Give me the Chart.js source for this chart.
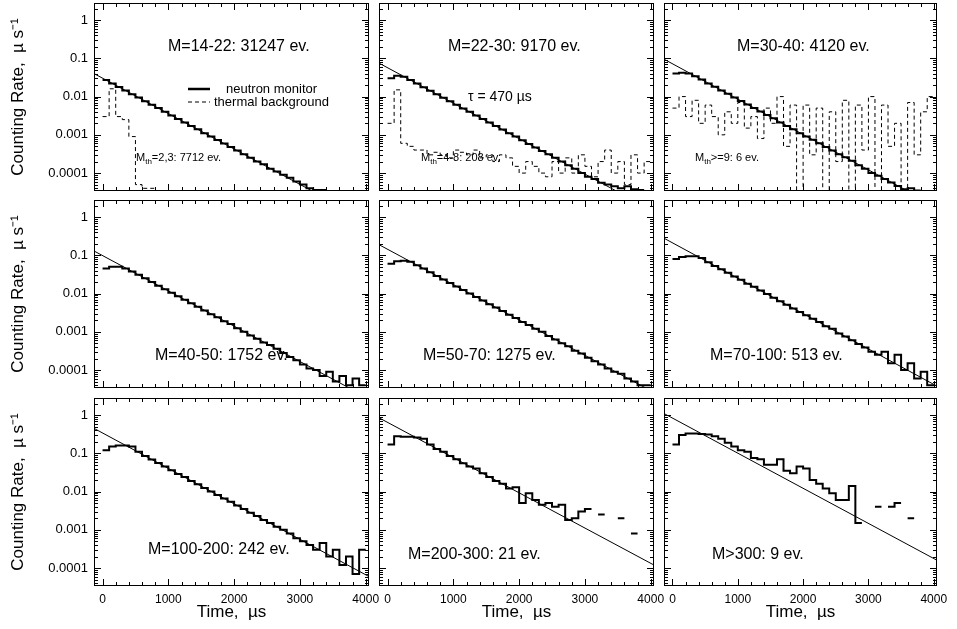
<!DOCTYPE html>
<html><head><meta charset="utf-8">
<script src="https://cdn.jsdelivr.net/npm/chart.js@4"></script>
<style>body{margin:0;background:#fff;width:957px;height:629px;overflow:hidden;position:relative;font-family:"Liberation Sans",Arial,sans-serif}canvas{position:absolute}</style>
</head><body>
<script>
const binEdges=[0,100,200,300,400,500,600,700,800,900,1000,1100,1200,1300,1400,1500,1600,1700,1800,1900,2000,2100,2200,2300,2400,2500,2600,2700,2800,2900,3000,3100,3200,3300,3400,3500,3600,3700,3800,3900,4000];
const xTickLabels=[0,1000,2000,3000,4000];
const yTickValues=[0.0001,0.001,0.01,0.1,1];
const h1=[0.027,0.022,0.0178,0.0144,0.0116,0.0094,0.0076,0.0061,0.005,0.004,0.0032,0.0026,0.0021,0.0017,0.0014,0.0011,0.0009,0.00073,0.00059,0.00048,0.00039,0.00031,0.00025,0.0002,0.00017,0.00013,0.00011,0.00009,0.000075,0.00006,0.00005,0.00004,0.000036,0.000036,null,null,null,null,null,null];
const t1=[0.003,0.016,0.003,0.0025,0.0009,0.00005,0.00004,0.00004,null,null,null,null,null,null,null,null,null,null,null,null,null,null,null,null,null,null,null,null,null,null,null,null,null,null,null,null,null,null,null,null];
const h2=[0.03,0.035,0.033,0.027,0.022,0.0176,0.0142,0.0115,0.0093,0.0075,0.0061,0.0049,0.004,0.0032,0.0026,0.0021,0.0017,0.00137,0.0011,0.0009,0.00072,0.00058,0.00047,0.00038,0.00031,0.00025,0.0002,0.00016,0.00013,0.0001,0.00008,0.00007,0.000056,0.00005,0.000045,0.00004,0.000045,0.000038,0.000036,null];
const t2=[0.002,0.015,0.0006,0.0005,0.0004,0.0004,0.0003,0.00035,0.0003,0.00025,0.0004,0.00035,0.0003,0.0004,0.00025,0.0003,0.0002,0.0003,0.00025,0.00015,0.0001,0.0002,0.00015,0.0001,0.00008,0.0002,0.0001,0.00025,0.0001,0.0003,0.00015,0.00008,0.0002,0.0004,0.0001,0.0002,0.00005,0.0003,0.0001,0.0002];
const h3=[0.04,0.042,0.04,0.034,0.028,0.022,0.018,0.0145,0.0118,0.0095,0.0077,0.0062,0.005,0.0041,0.0033,0.0027,0.0021,0.0017,0.0014,0.0011,0.0009,0.00074,0.0006,0.00048,0.00039,0.00031,0.00026,0.00021,0.00016,0.00013,0.0001,0.000085,0.00007,0.000057,0.000046,0.000038,0.00004,0.000035,null,null];
const t3=[0.005,0.01,0.003,0.008,0.002,0.006,0.003,0.001,0.004,0.002,0.007,0.0015,0.003,0.0008,0.005,0.002,0.01,0.0005,0.006,0.00001,0.006,0.0003,0.005,0.00001,0.004,0.0002,0.008,0.00001,0.006,0.0004,0.01,0.00001,0.006,0.0005,0.002,0.00001,0.007,0.0003,0.004,0.01];
const h4=[0.045,0.05,0.05,0.045,0.038,0.031,0.025,0.02,0.016,0.013,0.0105,0.0085,0.0069,0.0056,0.0045,0.0036,0.0029,0.0024,0.0019,0.0016,0.00125,0.001,0.0008,0.00066,0.00053,0.00045,0.00036,0.00028,0.00022,0.00018,0.00014,0.00011,0.0001,0.00007,0.00009,0.00005,0.00007,0.00004,0.00006,0.00004];
const h5=[0.06,0.07,0.072,0.068,0.055,0.045,0.036,0.029,0.0235,0.019,0.0154,0.0124,0.01,0.0082,0.0066,0.0053,0.0043,0.0035,0.0028,0.0023,0.0018,0.0015,0.0012,0.001,0.00078,0.00063,0.0005,0.00042,0.00032,0.00027,0.00021,0.00017,0.00014,0.00011,0.00009,0.00008,0.00006,0.00005,0.00004,0.00004];
const h6=[0.08,0.09,0.095,0.095,0.085,0.066,0.053,0.043,0.035,0.028,0.023,0.018,0.015,0.012,0.0097,0.0078,0.0063,0.0051,0.0041,0.0033,0.0027,0.0022,0.0018,0.0014,0.0012,0.0009,0.00075,0.0006,0.00048,0.00039,0.0003,0.00025,0.0003,0.00015,0.00025,0.0001,0.00015,0.00006,0.00009,0.00004];
const h7=[0.12,0.15,0.16,0.16,0.15,0.11,0.085,0.069,0.056,0.045,0.036,0.029,0.024,0.019,0.0155,0.0125,0.01,0.0082,0.0066,0.0054,0.0043,0.0035,0.0028,0.0023,0.0018,0.0015,0.0012,0.001,0.0008,0.0006,0.0005,0.0004,0.0003,0.00045,0.0002,0.0003,0.00012,0.0002,0.00007,0.0003];
const h8=[0.17,0.28,0.27,0.27,0.26,0.24,0.17,0.13,0.11,0.085,0.07,0.055,0.045,0.04,0.03,0.024,0.019,0.016,0.012,0.013,0.005,0.009,0.006,0.0045,0.005,0.004,0.0045,0.0018,0.002,0.003,0.0035,null,0.0025,null,null,0.002,null,0.0008,null,null];
const h9=[0.17,0.3,0.33,0.33,0.32,0.31,0.28,0.24,0.19,0.15,0.12,0.11,0.075,0.07,0.05,0.05,0.07,0.035,0.03,0.045,0.04,0.02,0.016,0.012,0.009,0.006,0.006,0.014,0.0015,null,null,0.004,null,0.004,0.005,null,0.002,null,null,null];
const fitX=[-130,4050];
const fit1=[0.04,5.4e-6],fit2=[0.075,1.0e-5],fit3=[0.095,1.3e-5],fit4=[0.13,1.8e-5],fit5=[0.19,2.6e-5],fit6=[0.28,3.8e-5],fit7=[0.45,6.0e-5],fit8=[0.85,1.2e-4],fit9=[1.1,1.6e-4];
const panelTitles=["M=14-22: 31247 ev.","M=22-30: 9170 ev.","M=30-40: 4120 ev.","M=40-50: 1752 ev.","M=50-70: 1275 ev.","M=70-100: 513 ev.","M=100-200: 242 ev.","M=200-300: 21 ev.","M>300: 9 ev."];
const hists=[h1,h2,h3,h4,h5,h6,h7,h8,h9];
const therms=[t1,t2,t3,null,null,null,null,null,null];
const fits=[fit1,fit2,fit3,fit4,fit5,fit6,fit7,fit8,fit9];

function stepPts(v){const p=[];for(let i=0;i<v.length;i++){if(v[i]==null){p.push({x:binEdges[i],y:null});continue;}p.push({x:binEdges[i],y:v[i]});p.push({x:binEdges[i+1],y:v[i]});}return p;}

const colL=[0,379,664],colW=[369,275,273],rowT=[3,200,398];
const titlePos=[[74,44],[69,44],[73,44],[61,156],[44,156],[46,156],[54,152],[29,157],[48,157]];
const FONT='"Liberation Sans",Arial,sans-serif';
const EXTRA=20;

const framePlugin={id:'frame',afterDraw(c){
  const ctx=c.ctx,a=c.chartArea,xs=c.scales.x,ys=c.scales.y;const idx=c.options.plugins.frame.idx;
  ctx.save();ctx.strokeStyle='#000';ctx.lineWidth=1;
  ctx.strokeRect(a.left+0.5,a.top+0.5,a.right-a.left-1,a.bottom-a.top-1);
  ctx.beginPath();
  for(let t=0;t<=4000;t+=200){const x=Math.round(xs.getPixelForValue(t))+0.5;const L=t%1000===0?7:4;ctx.moveTo(x,a.bottom);ctx.lineTo(x,a.bottom-L);ctx.moveTo(x,a.top);ctx.lineTo(x,a.top+L);}
  for(let e=-5;e<=0;e++){for(let m=1;m<=9;m++){const v=m*Math.pow(10,e);if(v<ys.min||v>ys.max)continue;const y=Math.round(ys.getPixelForValue(v))+0.5;const L=m===1?7:4;ctx.moveTo(a.left,y);ctx.lineTo(a.left+L,y);ctx.moveTo(a.right,y);ctx.lineTo(a.right-L,y);}}
  ctx.stroke();
  ctx.fillStyle='#000';ctx.textBaseline='middle';
  const tp=titlePos[idx];ctx.font='16px '+FONT;ctx.fillText(panelTitles[idx],a.left+tp[0],a.top+tp[1]);
  function sub(x,y,main,s,rest){ctx.font='11px '+FONT;ctx.fillText(main,x,y);let w=ctx.measureText(main).width;ctx.font='8px '+FONT;ctx.fillText(s,x+w,y+4);w+=ctx.measureText(s).width;ctx.font='11px '+FONT;ctx.fillText(rest,x+w,y);}
  if(idx===0){ctx.font='13px '+FONT;
    ctx.lineWidth=2.5;ctx.beginPath();ctx.moveTo(a.left+94,a.top+86);ctx.lineTo(a.left+116,a.top+86);ctx.stroke();
    ctx.lineWidth=1;ctx.setLineDash([4,3]);ctx.beginPath();ctx.moveTo(a.left+94,a.top+99);ctx.lineTo(a.left+116,a.top+99);ctx.stroke();ctx.setLineDash([]);
    ctx.fillText('neutron monitor',a.left+132,a.top+86);ctx.fillText('thermal background',a.left+120,a.top+99);
    sub(a.left+42,a.top+155,'M','th','=2,3: 7712 ev.');}
  if(idx===1){ctx.font='14px '+FONT;ctx.fillText('τ = 470 µs',a.left+89,a.top+94);sub(a.left+42,a.top+155,'M','th','=4-8: 208 ev.');}
  if(idx===2){sub(a.left+31,a.top+155,'M','th','>=9: 6 ev.');}
  ctx.restore();}};

for(let i=0;i<9;i++){
  const r=Math.floor(i/3),cc=i%3;const bottom=r===2,left=cc===0;
  const ex=bottom?EXTRA:0;
  const W=colW[cc]+ex,H=188+(bottom?43:0);
  const cv=document.createElement('canvas');
  cv.width=W;cv.height=H;
  cv.style.left=colL[cc]+'px';cv.style.top=rowT[r]+'px';cv.style.width=W+'px';cv.style.height=H+'px';
  document.body.appendChild(cv);
  const ds=[{data:stepPts(hists[i]),borderColor:'#000',borderWidth:2,pointRadius:0,spanGaps:false,tension:0}];
  if(therms[i])ds.push({data:stepPts(therms[i]),borderColor:'#000',borderWidth:1,borderDash:[4,3],pointRadius:0,spanGaps:false});
  ds.push({data:fitX.map((x,k)=>({x:x,y:fits[i][k]})),borderColor:'#000',borderWidth:1,pointRadius:0});
  new Chart(cv,{type:'line',data:{datasets:ds},plugins:[framePlugin],
    options:{responsive:false,animation:false,devicePixelRatio:1,layout:{padding:{left:0,top:0,bottom:0,right:ex}},
      plugins:{legend:{display:false},tooltip:{enabled:false},frame:{idx:i}},
      scales:{
        x:{type:'linear',min:-130,max:4050,display:bottom,grid:{display:false,drawTicks:false},border:{display:false},
          afterBuildTicks:s=>{s.ticks=xTickLabels.map(v=>({value:v}));},
          afterFit:s=>{s.height=bottom?43:0;s.paddingLeft=0;s.paddingRight=0;},
          ticks:{color:'#000',font:{size:12,family:FONT},padding:6,maxRotation:0,callback:v=>String(v)},
          title:{display:true,text:'Time,  µs',color:'#000',font:{size:17,family:FONT},padding:{top:0,bottom:6}}},
        y:{type:'logarithmic',min:3.4e-5,max:2.8,display:left,grid:{display:false,drawTicks:false},border:{display:false},
          afterBuildTicks:s=>{s.ticks=yTickValues.map(v=>({value:v}));},
          afterFit:s=>{s.width=left?94:0;s.paddingTop=0;s.paddingBottom=0;},
          ticks:{color:'#000',font:{size:13,family:FONT},padding:6,callback:v=>String(v)},
          title:{display:true,text:'Counting Rate,  µ s⁻¹',color:'#000',font:{size:17,family:FONT},padding:{top:8,bottom:8}}}
      }}});
}
</script>
</body></html>
